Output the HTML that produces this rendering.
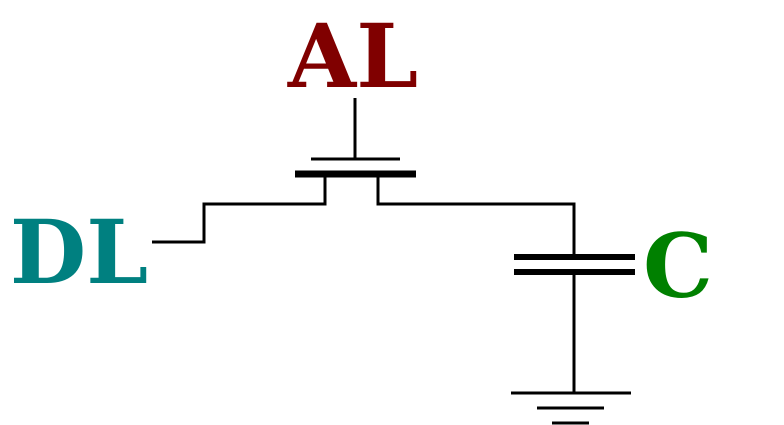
<!DOCTYPE html>
<html><head><meta charset="utf-8"><style>html,body{margin:0;padding:0;background:#fff}svg{display:block}</style></head>
<body>
<svg width="784" height="425" viewBox="0 0 784 425" xmlns="http://www.w3.org/2000/svg">
<rect width="784" height="425" fill="#fff"/>
<text x="353" y="87" text-anchor="middle" font-family="DejaVu Serif, Liberation Serif, serif" font-weight="bold" font-size="88" fill="#800000">AL</text>
<text x="79" y="283" text-anchor="middle" font-family="DejaVu Serif, Liberation Serif, serif" font-weight="bold" font-size="88" fill="#008080">DL</text>
<text x="678" y="297" text-anchor="middle" font-family="DejaVu Serif, Liberation Serif, serif" font-weight="bold" font-size="88" fill="#008000">C</text>
<g stroke="#000" fill="none" stroke-width="3">
<line x1="355" y1="98" x2="355" y2="159"/>
<line x1="311" y1="159" x2="400" y2="159"/>
<line x1="295" y1="174" x2="416" y2="174" stroke-width="7"/>
<polyline points="152,242 204,242 204,204 325,204 325,177"/>
<polyline points="378,177 378,204 574,204 574,257"/>
<line x1="514" y1="257" x2="635" y2="257" stroke-width="6"/>
<line x1="514" y1="272" x2="635" y2="272" stroke-width="6"/>
<line x1="574" y1="272" x2="574" y2="393"/>
<line x1="511" y1="393" x2="631" y2="393"/>
<line x1="537" y1="408" x2="604" y2="408"/>
<line x1="552" y1="423" x2="589" y2="423"/>
</g>
</svg>
</body></html>
